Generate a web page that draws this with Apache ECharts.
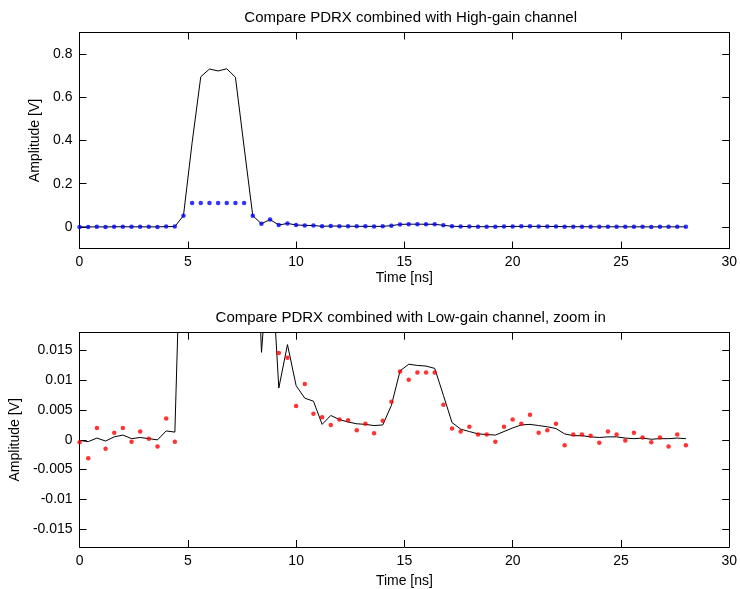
<!DOCTYPE html>
<html>
<head>
<meta charset="utf-8">
<script src="https://cdn.jsdelivr.net/npm/echarts@6/dist/echarts.min.js"></script>
<style>
html,body{margin:0;padding:0;background:#fff;}
#chart{width:740px;height:589px;}
</style>
</head>
<body>
<div id="chart"></div>
<script>
// Sample times [ns]
const times = [0,0.4,0.8,1.2,1.6,2,2.4,2.8,3.2,3.6,4,4.4,4.8,5.2,5.6,6,6.4,6.8,7.2,7.6,8,8.4,8.8,9.2,9.6,10,10.4,10.8,11.2,11.6,12,12.4,12.8,13.2,13.6,14,14.4,14.8,15.2,15.6,16,16.4,16.8,17.2,17.6,18,18.4,18.8,19.2,19.6,20,20.4,20.8,21.2,21.6,22,22.4,22.8,23.2,23.6,24,24.4,24.8,25.2,25.6,26,26.4,26.8,27.2,27.6,28];

// PDRX combined signal [V]
const combined = [-0.0001,-0.0003,0.0003,-0.0002,0.0005,0.0008,0.0002,0.0004,0.0002,0.0000,0.0015,0.0013,
  0.052,0.39,0.695,0.731,0.722,0.732,0.693,0.37,0.052,0.0147,0.034,
  0.0087,0.0160,0.0091,0.0070,0.0065,0.0026,0.0041,0.0034,0.0030,0.0027,0.0026,0.0024,0.0025,0.0058,
  0.0116,0.0127,0.0125,0.0124,0.0120,0.0075,0.0029,0.0018,0.0014,0.0010,0.0009,0.0008,0.0014,0.0020,
  0.0025,0.0026,0.0024,0.0022,0.0019,0.0010,0.0007,0.0007,0.0005,0.0004,0.0005,0.0005,0.0003,0.0002,
  0.0003,0.0001,0.0002,0.0002,0.0003,0.0002];

// High-gain channel [V] (saturates)
const highGain = [-0.0001,-0.0003,0.0003,-0.0002,0.0005,0.0008,0.0002,0.0004,0.0002,0.0000,0.0015,0.0013,
  0.052,0.111,0.111,0.111,0.111,0.111,0.111,0.111,0.052,0.0147,0.034,
  0.0087,0.0160,0.0091,0.0070,0.0065,0.0026,0.0041,0.0034,0.0030,0.0027,0.0026,0.0024,0.0025,0.0058,
  0.0116,0.0127,0.0125,0.0124,0.0120,0.0075,0.0029,0.0018,0.0014,0.0010,0.0009,0.0008,0.0014,0.0020,
  0.0025,0.0026,0.0024,0.0022,0.0019,0.0010,0.0007,0.0007,0.0005,0.0004,0.0005,0.0005,0.0003,0.0002,
  0.0003,0.0001,0.0002,0.0002,0.0003,0.0002];

// Low-gain channel [V]
const lowGain = [-0.0004,-0.0031,0.0020,-0.0015,0.0012,0.0020,-0.0003,0.0014,0.0002,-0.0011,0.0036,-0.0003,
  0.05,0.39,0.70,0.73,0.72,0.73,0.69,0.37,0.05,0.021,0.034,
  0.0146,0.0138,0.0057,0.0094,0.0044,0.0038,0.0025,0.0034,0.0033,0.0016,0.0027,0.0011,0.0032,0.0064,
  0.0115,0.0101,0.0113,0.0113,0.0113,0.0059,0.0019,0.0014,0.0022,0.0009,0.0009,-0.0003,0.0022,0.0034,
  0.0027,0.0042,0.0012,0.0016,0.0027,-0.0009,0.0009,0.0009,0.0007,-0.0005,0.0014,0.0009,-0.0001,0.0012,
  0.0004,-0.0004,0.0004,-0.0011,0.0009,-0.0009];

const xTicks = [0,5,10,15,20,25,30];
const topYTicks = [0,0.2,0.4,0.6,0.8];
const bottomYTicks = [-0.015,-0.01,-0.005,0,0.005,0.01,0.015];

const titles = ['Compare PDRX combined with High-gain channel','Compare PDRX combined with Low-gain channel, zoom in'];
const xName = 'Time [ns]';
const yName = 'Amplitude [V]';

const FONT = 'Liberation Sans, Arial, Helvetica, sans-serif';
const pairs = (ys) => times.map((t,i)=>[t, ys[i]]);
const fmt = v => String(+(+v).toFixed(4));

const GL = 79.5, GW = 652.3;
const grids = [
  {left: GL, top: 32.5, width: GW, height: 216},
  {left: GL, top: 332.7, width: GW, height: 215}
];

const tickStyle = {show:true, inside:true, length:7, lineStyle:{color:'#000', width:1}};
const lineStyle = {show:true, onZero:false, lineStyle:{color:'#000', width:1}};

function xAxes(gi){
  const base = {type:'value', gridIndex:gi, min:0, max:30, interval:5, splitLine:{show:false},
    axisLine:lineStyle, axisTick:tickStyle};
  return [
    Object.assign({}, base, {position:'bottom', name:xName, nameLocation:'middle', nameGap:gi===0?23:27,
      nameTextStyle:{color:'#000', fontSize:14, fontFamily:FONT},
      axisLabel:{color:'#000', fontSize:14, fontFamily:FONT, margin:7,
        customValues: xTicks, formatter: fmt}}),
    Object.assign({}, base, {position:'top', axisLabel:{show:false}})
  ];
}
function yAxes(gi, mn, mx, ticks, gap){
  const base = {type:'value', gridIndex:gi, min:mn, max:mx, splitLine:{show:false},
    axisLine:lineStyle, axisTick:Object.assign({}, tickStyle, {customValues:ticks})};
  return [
    Object.assign({}, base, {position:'left', name:yName, nameLocation:'middle', nameGap:gap, nameRotate:90,
      nameTextStyle:{color:'#000', fontSize:14, fontFamily:FONT},
      axisLabel:{color:'#000', fontSize:14, fontFamily:FONT, margin:7, customValues:ticks, formatter: fmt}}),
    Object.assign({}, base, {position:'right', axisLabel:{show:false, customValues:ticks}})
  ];
}

const chart = echarts.init(document.getElementById('chart'), null, {renderer:'canvas'});
chart.setOption({
  animation:false,
  backgroundColor:'#fff',
  title: [
    {text:titles[0], left: GL + GW/2, top: 5, textAlign:'center',
     textStyle:{fontSize:15, fontWeight:'normal', color:'#000', fontFamily:FONT}},
    {text:titles[1], left: GL + GW/2, top: 305, textAlign:'center',
     textStyle:{fontSize:15, fontWeight:'normal', color:'#000', fontFamily:FONT}}
  ],
  grid: grids,
  xAxis: [].concat(xAxes(0), xAxes(1)),
  yAxis: [].concat(yAxes(0, -0.1, 0.9, topYTicks, 28), yAxes(1, -0.018, 0.018, bottomYTicks, 47)),
  series: [
    {type:'line', xAxisIndex:0, yAxisIndex:0, data:pairs(combined), showSymbol:false, symbol:'none',
     lineStyle:{color:'#000', width:1}, clip:true, z:2},
    {type:'scatter', xAxisIndex:0, yAxisIndex:0, data:pairs(highGain), symbol:'circle', symbolSize:4.5,
     itemStyle:{color:'#0000ff'}, clip:true, z:3},
    {type:'line', xAxisIndex:2, yAxisIndex:2, data:pairs(combined), showSymbol:false, symbol:'none',
     lineStyle:{color:'#000', width:1}, clip:true, z:2},
    {type:'scatter', xAxisIndex:2, yAxisIndex:2, data:pairs(lowGain), symbol:'circle', symbolSize:4.5,
     itemStyle:{color:'#ff0000'}, clip:true, z:3}
  ]
});
</script>
</body>
</html>
